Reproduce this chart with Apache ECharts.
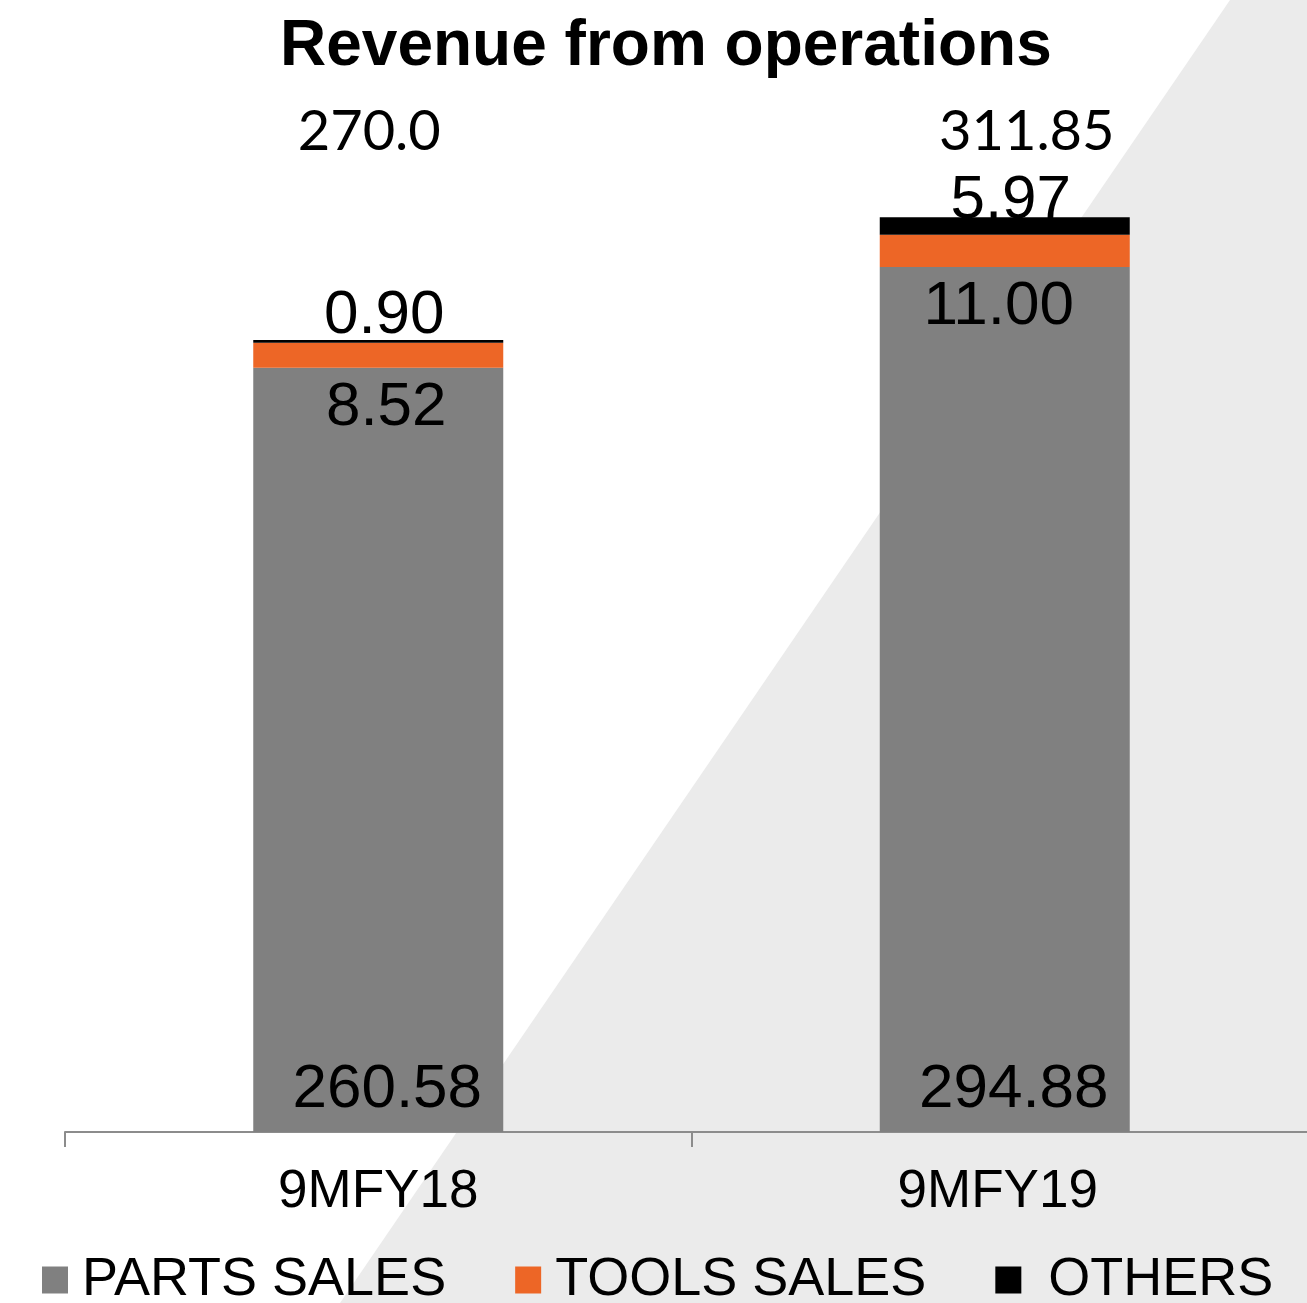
<!DOCTYPE html>
<html>
<head>
<meta charset="utf-8">
<script src="https://cdn.jsdelivr.net/npm/echarts@6/dist/echarts.min.js"></script>
<style>
html, body { margin: 0; padding: 0; background: #fff; overflow: hidden; }
/* 图表区略宽于窗口, 右侧轴端被裁掉 */
#main { width: 1318px; height: 1303px; }
</style>
</head>
<body>
<div id="main"></div>
<script>
// 数据
var categories = ['9MFY18', '9MFY19'];
var partsSales = [260.58, 294.88];
var toolsSales = [8.52, 11.00];
var others = [0.90, 5.97];
var totals = ['270.0', '311.85'];

var labelFont = 'Liberation Sans, Arial, sans-serif';
// tools 标签左右微调
var toolsOffsetX = [8, -6];

var myChart = echarts.init(document.getElementById('main'));
var option = {
	backgroundColor: '#fff',
	animation: false,
	title: {
		text: 'Revenue from operations',
		left: 275,
		top: 10,
		textStyle: {
			fontFamily: labelFont,
			fontSize: 64,
			fontWeight: 'bold',
			color: '#000'
		}
	},
	// 背景斜三角
	graphic: [{
		type: 'polygon',
		z: -10,
		silent: true,
		shape: { points: [[340, 1303], [1230, 0], [1318, 0], [1318, 1303]] },
		style: { fill: '#ebebeb' }
	}],
	legend: {
		left: 37,
		top: 1248,
		itemWidth: 26,
		itemHeight: 27,
		itemGap: 69,
		icon: 'rect',
		textStyle: {
			fontFamily: labelFont,
			fontSize: 54,
			color: '#000',
			padding: [0, 0, 0, 9]
		},
		data: [
			{ name: 'PARTS SALES' },
			{ name: 'TOOLS SALES' },
			{ name: 'OTHERS', textStyle: { padding: [0, 0, 0, 22] } }
		]
	},
	grid: {
		left: 65,
		right: 0,
		top: 164,
		bottom: 171,
		containLabel: false
	},
	xAxis: [{
		type: 'category',
		data: categories,
		position: 'bottom',
		axisLine: { show: true, lineStyle: { color: '#8c8c8c', width: 2 } },
		axisTick: { show: true, length: 15, lineStyle: { color: '#8c8c8c', width: 2 } },
		axisLabel: {
			margin: 34,
			formatter: function (val, idx) {
				return idx === 0 ? '{a|' + val + '}' : '{b|' + val + '}';
			},
			rich: {
				a: { fontFamily: labelFont, fontSize: 53, color: '#000' },
				b: { fontFamily: labelFont, fontSize: 53, color: '#000', padding: [0, 14, 0, 0] }
			}
		}
	}, {
		// 总数放在顶部轴
		type: 'category',
		data: totals,
		position: 'top',
		axisLine: { show: false },
		axisTick: { show: false },
		axisLabel: {
			margin: 4,
			formatter: function (val, idx) {
				return idx === 0 ? '{l|' + val + '}' : '{r|' + val + '}';
			},
			rich: {
				l: { fontFamily: 'Lato, Carlito, sans-serif', fontSize: 56, color: '#000', padding: [0, 18, 0, 0] },
				r: { fontFamily: 'Lato, Carlito, sans-serif', fontSize: 56, color: '#000', padding: [0, 0, 0, 44] }
			}
		}
	}],
	yAxis: {
		type: 'value',
		min: 0,
		max: 330,
		show: false,
		splitLine: { show: false }
	},
	series: [{
		name: 'PARTS SALES',
		type: 'bar',
		stack: 'rev',
		barWidth: 250,
		data: partsSales,
		itemStyle: { color: '#808080' },
		label: {
			show: true,
			position: 'insideBottom',
			distance: 11,
			offset: [9, 0],
			fontFamily: labelFont,
			fontSize: 62,
			color: '#000',
			formatter: function (p) { return p.value.toFixed(2); }
		}
	}, {
		name: 'TOOLS SALES',
		type: 'bar',
		stack: 'rev',
		data: toolsSales.map(function (v, i) {
			return { value: v, label: { offset: [toolsOffsetX[i], 0] } };
		}),
		itemStyle: { color: '#ed6626' },
		label: {
			show: true,
			position: 'bottom',
			distance: 9,
			fontFamily: labelFont,
			fontSize: 62,
			color: '#000',
			formatter: function (p) { return p.value.toFixed(2); }
		}
	}, {
		name: 'OTHERS',
		type: 'bar',
		stack: 'rev',
		data: others,
		itemStyle: { color: '#000' },
		label: {
			show: true,
			position: 'inside',
			offset: [6, -25],
			fontFamily: labelFont,
			fontSize: 62,
			color: '#000',
			formatter: function (p) { return p.value.toFixed(2); }
		}
	}]
};
myChart.setOption(option);
</script>
</body>
</html>
